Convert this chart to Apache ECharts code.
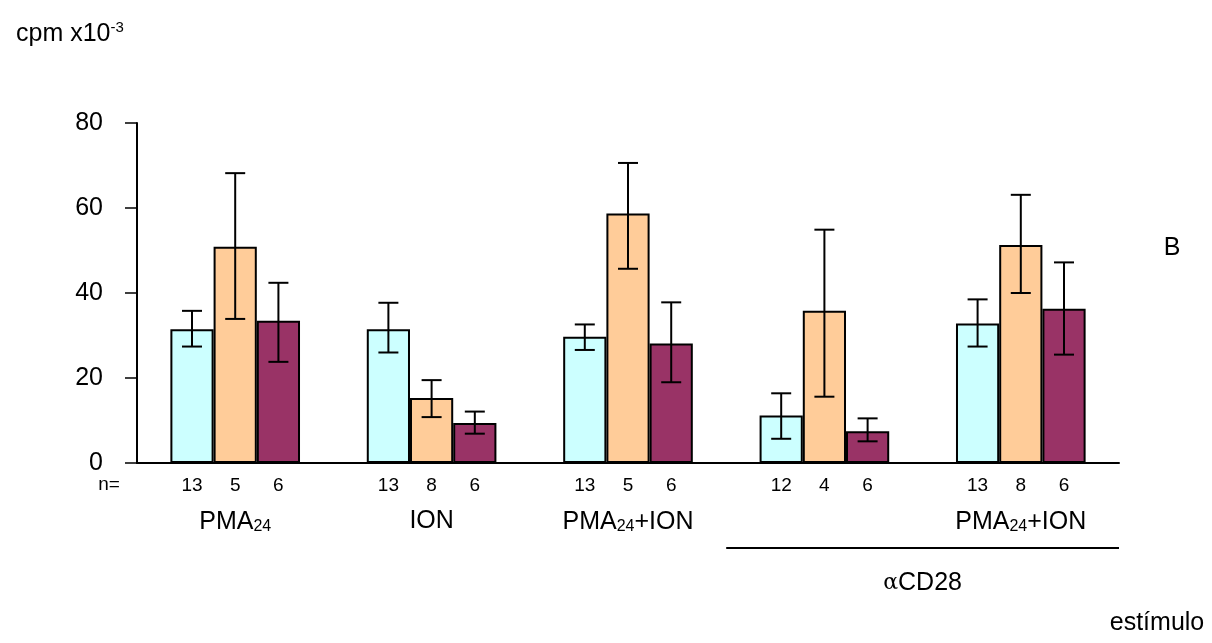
<!DOCTYPE html>
<html>
<head>
<meta charset="UTF-8">
<title>cpm estímulo</title>
<script src="https://cdn.jsdelivr.net/npm/echarts@6/dist/echarts.min.js"></script>
<style>
body{margin:0;background:#fff}
#chart{width:1212px;height:643px}
</style>
</head>
<body>
<div id="chart"></div>
<script type="text/javascript">
// grupos de estímulo
var groups = ['PMA{s|24}', 'ION', 'PMA{s|24}+ION', '', 'PMA{s|24}+ION'];

// medias (cpm x10-3) y barras de error
var cyan = [31.5, 31.5, 29.7, 11.2, 32.8];
var cyanLow = [27.4, 26.0, 26.6, 5.7, 27.4];
var cyanHigh = [35.8, 37.7, 32.6, 16.4, 38.5];

var orange = [50.9, 15.3, 58.7, 35.8, 51.3];
var orangeLow = [33.9, 10.8, 45.7, 15.6, 40.0];
var orangeHigh = [68.2, 19.5, 70.6, 54.9, 63.1];

var purple = [33.5, 9.4, 28.1, 7.5, 36.3];
var purpleLow = [23.8, 6.9, 19.0, 5.1, 25.5];
var purpleHigh = [42.4, 12.1, 37.8, 10.5, 47.2];

// n de cada barra
var nCyan = [13, 13, 13, 12, 13];
var nOrange = [5, 8, 5, 4, 8];
var nPurple = [6, 6, 6, 6, 6];

var yTicks = [0, 20, 40, 60, 80];

var FONT = 'Liberation Sans';
var GAP = 0.34; // barCategoryGap

var mychart = echarts.init(document.getElementById('chart'));

function errData(lo, hi){
	var out = [];
	for(var i=0;i<lo.length;i++){ out.push([i, lo[i], hi[i]]); }
	return out;
}

function errItem(pos){
	return function(params, api){
		var x = api.value(0);
		var p1 = api.coord([x, api.value(1)]);
		var p2 = api.coord([x, api.value(2)]);
		var band = api.size([1, 0])[0];
		var bw = band*(1-GAP)/3;
		var cx = p1[0] + (pos-1)*bw;
		var cap = 10;
		var st = {stroke:'#000', lineWidth:2};
		return {type:'group', children:[
			{type:'line', shape:{x1:cx, y1:p1[1], x2:cx, y2:p2[1]}, style:st},
			{type:'line', shape:{x1:cx-cap, y1:p1[1], x2:cx+cap, y2:p1[1]}, style:st},
			{type:'line', shape:{x1:cx-cap, y1:p2[1], x2:cx+cap, y2:p2[1]}, style:st}
		]};
	};
}

function barSeries(name, data, color, nArr){
	return {
		name:name, type:'bar', data:data,
		barGap:'0%', barCategoryGap:(GAP*100)+'%',
		itemStyle:{color:color, borderColor:'#000', borderWidth:2},
		label:{
			show:true, position:['50%','100%'], offset:[0, 13],
			align:'center', verticalAlign:'top',
			color:'#000', fontFamily:FONT, fontSize:19,
			formatter:function(p){ return nArr[p.dataIndex]; }
		},
		silent:true
	};
}

function errSeries(lo, hi, pos){
	return {
		type:'custom', data:errData(lo, hi), renderItem:errItem(pos),
		encode:{x:0, y:[1,2]}, z:5, silent:true
	};
}

var option = {
	animation:false,
	title:{
		text:'cpm x10{sup|-3}', left:11, top:15,
		textStyle:{
			color:'#000', fontFamily:FONT, fontSize:25, fontWeight:'normal',
			rich:{sup:{fontFamily:FONT, fontSize:15, color:'#000', padding:[0,0,14,0]}}
		}
	},
	grid:{left:137, right:93, top:123, bottom:180},
	xAxis:{
		type:'category', data:groups,
		axisLine:{lineStyle:{color:'#000', width:2}},
		axisTick:{length:10, lineStyle:{color:'#000', width:1}},
		axisLabel:{
			interval:0, margin:46, color:'#000', fontFamily:FONT, fontSize:25,
			rich:{s:{fontFamily:FONT, fontSize:16, color:'#000', padding:[10,0,0,0]}}
		}
	},
	yAxis:{
		type:'value', min:0, max:80, interval:20,
		axisLine:{show:true, lineStyle:{color:'#000', width:2}},
		axisTick:{show:true, length:12, lineStyle:{color:'#000', width:1.5}},
		splitLine:{show:false},
		axisLabel:{
			margin:34, color:'#000', fontFamily:FONT, fontSize:25,
			formatter:function(v){ return yTicks.indexOf(v) >= 0 ? v : ''; }
		}
	},
	series:[
		barSeries('c', cyan, '#CCFFFF', nCyan),
		barSeries('o', orange, '#FFCC99', nOrange),
		barSeries('p', purple, '#993366', nPurple),
		errSeries(cyanLow, cyanHigh, 0),
		errSeries(orangeLow, orangeHigh, 1),
		errSeries(purpleLow, purpleHigh, 2)
	]
};
mychart.setOption(option);

// línea que agrupa los estímulos con aCD28
var xa = mychart.convertToPixel({xAxisIndex:0}, 3);
var xb = mychart.convertToPixel({xAxisIndex:0}, 4);
var half = (xb - xa)/2;
var lineY = 548;

mychart.setOption({
	graphic:[
		{type:'text', x:109, y:485, style:{text:'n=', font:'19px "Liberation Sans"', fill:'#000', align:'center', verticalAlign:'middle'}},
		{type:'line', shape:{x1:xa-half, y1:lineY, x2:xb+half, y2:lineY}, style:{stroke:'#000', lineWidth:2}},
		{type:'text', x:(xa+xb)/2, y:583, style:{
			text:'{a|α}CD28', fill:'#000', align:'center', verticalAlign:'middle',
			font:'25px "Liberation Sans"',
			rich:{a:{fontFamily:'DejaVu Serif', fontSize:22, fill:'#000'}}
		}},
		{type:'text', x:1172, y:248, style:{text:'B', font:'25px "Liberation Sans"', fill:'#000', align:'center', verticalAlign:'middle'}},
		{type:'text', x:1157, y:623, style:{text:'estímulo', font:'25px "Liberation Sans"', fill:'#000', align:'center', verticalAlign:'middle'}}
	]
});
</script>
</body>
</html>
